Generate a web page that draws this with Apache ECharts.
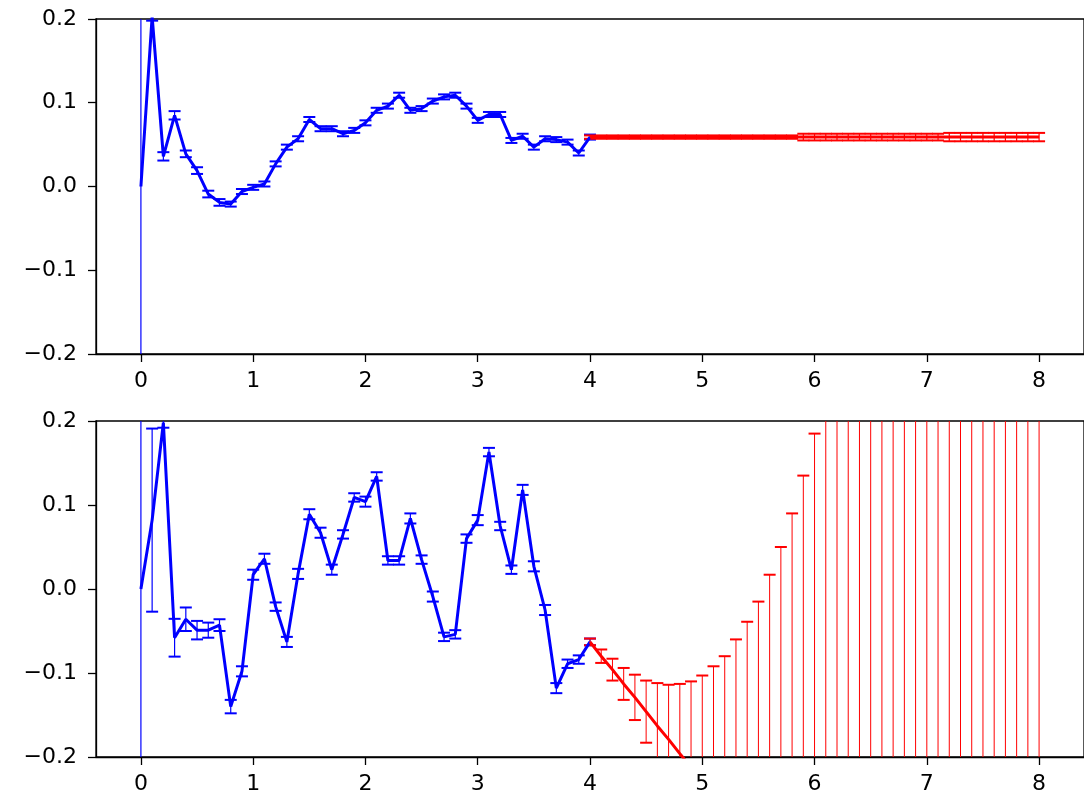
<!DOCTYPE html>
<html>
<head>
<meta charset="utf-8">
<script src="https://cdn.jsdelivr.net/npm/echarts@6/dist/echarts.min.js"></script>
<style>
  html, body { margin: 0; padding: 0; background: #fff; }
  #chart { width: 1084px; height: 806px; }
</style>
</head>
<body>
<div id="chart"></div>
<script>
// x positions
const blueX = [0, 0.1, 0.2, 0.3, 0.4, 0.5, 0.6, 0.7, 0.8, 0.9, 1.0, 1.1, 1.2, 1.3, 1.4, 1.5, 1.6, 1.7, 1.8, 1.9, 2.0,
  2.1, 2.2, 2.3, 2.4, 2.5, 2.6, 2.7, 2.8, 2.9, 3.0, 3.1, 3.2, 3.3, 3.4, 3.5, 3.6, 3.7, 3.8, 3.9, 4.0]
const redX = [4.0, 4.1, 4.2, 4.3, 4.4, 4.5, 4.6, 4.7, 4.8, 4.9, 5.0, 5.1, 5.2, 5.3, 5.4, 5.5, 5.6, 5.7, 5.8, 5.9, 6.0,
  6.1, 6.2, 6.3, 6.4, 6.5, 6.6, 6.7, 6.8, 6.9, 7.0, 7.1, 7.2, 7.3, 7.4, 7.5, 7.6, 7.7, 7.8, 7.9, 8.0]

// top panel
const topBlue = [0.0, 0.203, 0.036, 0.085, 0.039, 0.019, -0.009, -0.019, -0.021, -0.006, -0.001, 0.003, 0.027, 0.047,
  0.057, 0.080, 0.069, 0.069, 0.063, 0.067, 0.076, 0.091, 0.096, 0.109, 0.091, 0.093, 0.102, 0.107, 0.109, 0.096,
  0.079, 0.086, 0.086, 0.055, 0.060, 0.047, 0.057, 0.056, 0.053, 0.040, 0.059]
const topBlueErr = [1.0, 0.005, 0.005, 0.005, 0.004, 0.004, 0.004, 0.004, 0.003, 0.003, 0.003, 0.003, 0.003, 0.003,
  0.003, 0.003, 0.003, 0.003, 0.003, 0.003, 0.003, 0.003, 0.003, 0.003, 0.003, 0.003, 0.003, 0.003, 0.003, 0.003,
  0.003, 0.003, 0.003, 0.003, 0.003, 0.003, 0.003, 0.003, 0.003, 0.003, 0.003]
const topRed = [0.059, 0.059, 0.059, 0.059, 0.059, 0.059, 0.059, 0.059, 0.059, 0.059, 0.059, 0.059, 0.059, 0.059,
  0.059, 0.059, 0.059, 0.059, 0.059, 0.059, 0.059, 0.059, 0.059, 0.059, 0.059, 0.059, 0.059, 0.059, 0.059, 0.059,
  0.059, 0.059, 0.059, 0.059, 0.059, 0.059, 0.059, 0.059, 0.059, 0.059, 0.059]
const topRedErr = [0.002, 0.002, 0.002, 0.002, 0.002, 0.002, 0.002, 0.002, 0.002, 0.002, 0.002, 0.002, 0.002, 0.002,
  0.002, 0.002, 0.002, 0.002, 0.002, 0.004, 0.004, 0.004, 0.004, 0.004, 0.004, 0.004, 0.004, 0.004, 0.004, 0.004,
  0.004, 0.004, 0.005, 0.005, 0.005, 0.005, 0.005, 0.005, 0.005, 0.005, 0.005]

// bottom panel
const bottomBlue = [0.0, 0.082, 0.198, -0.058, -0.036, -0.049, -0.049, -0.043, -0.140, -0.098, 0.017, 0.036, -0.021,
  -0.063, 0.018, 0.089, 0.067, 0.023, 0.065, 0.109, 0.104, 0.134, 0.034, 0.034, 0.084, 0.035, -0.009, -0.057, -0.054,
  0.060, 0.082, 0.163, 0.075, 0.023, 0.118, 0.027, -0.025, -0.118, -0.089, -0.084, -0.063]
const bottomBlueErr = [1.0, 0.109, 0.006, 0.0225, 0.014, 0.011, 0.009, 0.007, 0.008, 0.006, 0.006, 0.006, 0.005,
  0.006, 0.006, 0.006, 0.006, 0.006, 0.005, 0.005, 0.006, 0.005, 0.005, 0.005, 0.006, 0.005, 0.006, 0.005, 0.005,
  0.005, 0.006, 0.005, 0.005, 0.005, 0.006, 0.006, 0.006, 0.006, 0.005, 0.005, 0.004]
const bottomRed = [-0.063, -0.080, -0.096, -0.113, -0.129, -0.146, -0.163, -0.179, -0.196, -0.212, -0.229, -0.246,
  -0.262, -0.279, -0.295, -0.312, -0.329, -0.345, -0.362, -0.378, -0.395, -0.412, -0.428, -0.445, -0.461, -0.478,
  -0.495, -0.511, -0.528, -0.544, -0.561, -0.578, -0.594, -0.611, -0.627, -0.644, -0.661, -0.677, -0.694, -0.710, -0.727]
const bottomRedErr = [0.004, 0.008, 0.013, 0.019, 0.027, 0.037, 0.051, 0.065, 0.083, 0.102, 0.126, 0.154, 0.182,
  0.219, 0.256, 0.297, 0.346, 0.395, 0.452, 0.513, 0.580, 0.65, 0.73, 0.81, 0.90, 0.99, 1.09, 1.19, 1.30, 1.42, 1.54,
  1.67, 1.81, 1.95, 2.10, 2.26, 2.42, 2.59, 2.77, 2.95, 3.14]

const xTicks = [0, 1, 2, 3, 4, 5, 6, 7, 8]

const chart = echarts.init(document.getElementById('chart'), null, { renderer: 'canvas' })

const pairs = (xs, ys) => xs.map((x, i) => [x, ys[i]])
const errRows = (xs, ys, es) => xs.map((x, i) => [x, ys[i] - es[i], ys[i] + es[i]])

function errorBars(idx, rows, color, barWidth) {
  return {
    type: 'custom',
    xAxisIndex: idx,
    yAxisIndex: idx,
    clip: true,
    silent: true,
    data: rows,
    renderItem(params, api) {
      const x = api.value(0)
      const lo = api.coord([x, api.value(1)])
      const hi = api.coord([x, api.value(2)])
      const cap = 6
      return {
        type: 'group',
        children: [
          { type: 'line', shape: { x1: lo[0], y1: lo[1], x2: hi[0], y2: hi[1] }, style: { stroke: color, lineWidth: barWidth } },
          { type: 'line', shape: { x1: hi[0] - cap, y1: hi[1], x2: hi[0] + cap, y2: hi[1] }, style: { stroke: color, lineWidth: 2 } },
          { type: 'line', shape: { x1: lo[0] - cap, y1: lo[1], x2: lo[0] + cap, y2: lo[1] }, style: { stroke: color, lineWidth: 2 } },
        ],
      }
    },
  }
}

function lineSeries(idx, data, color) {
  return {
    type: 'line',
    xAxisIndex: idx,
    yAxisIndex: idx,
    data,
    symbol: 'none',
    silent: true,
    lineStyle: { color, width: 3 },
    z: 3,
  }
}

const labelFont = { fontFamily: 'DejaVu Sans', fontSize: 22, color: '#000' }

function xAxis(idx) {
  return {
    type: 'value',
    gridIndex: idx,
    min: -0.4,
    max: 8.4,
    axisLine: { show: true, onZero: false, lineStyle: { color: '#000', width: 1.3 } },
    axisTick: { show: true, customValues: xTicks, length: 8, lineStyle: { color: '#000', width: 1.3 } },
    axisLabel: { customValues: xTicks, margin: 16, ...labelFont },
    splitLine: { show: false },
  }
}

function yAxis(idx) {
  return {
    type: 'value',
    gridIndex: idx,
    min: -0.2,
    max: 0.2,
    interval: 0.1,
    axisLine: { show: true, onZero: false, lineStyle: { color: '#000', width: 1.3 } },
    axisTick: { show: true, length: 8, lineStyle: { color: '#000', width: 1.3 } },
    axisLabel: {
      margin: 19,
      ...labelFont,
      formatter: (v) => (Math.abs(v) < 1e-9 ? '0.0' : v.toFixed(1).replace('-', '\u2212')),
    },
    splitLine: { show: false },
  }
}

const option = {
  animation: false,
  backgroundColor: '#fff',
  grid: [
    { left: 96, top: 19, right: -5, height: 335, show: true, borderColor: '#000', borderWidth: 1.3, backgroundColor: 'transparent' },
    { left: 96, top: 421, right: -5, height: 336, show: true, borderColor: '#000', borderWidth: 1.3, backgroundColor: 'transparent' },
  ],
  xAxis: [xAxis(0), xAxis(1)],
  yAxis: [yAxis(0), yAxis(1)],
  series: [
    errorBars(0, errRows(blueX, topBlue, topBlueErr), '#0000ff', 1.2),
    lineSeries(0, pairs(blueX, topBlue), '#0000ff'),
    errorBars(0, errRows(redX, topRed, topRedErr), '#ff0000', 1.2),
    lineSeries(0, pairs(redX, topRed), '#ff0000'),
    errorBars(1, errRows(blueX, bottomBlue, bottomBlueErr), '#0000ff', 1.2),
    lineSeries(1, pairs(blueX, bottomBlue), '#0000ff'),
    errorBars(1, errRows(redX, bottomRed, bottomRedErr), '#ff0000', 1),
    lineSeries(1, pairs(redX, bottomRed), '#ff0000'),
  ],
}

chart.setOption(option)

window.addEventListener('resize', () => chart.resize())
</script>
</body>
</html>
